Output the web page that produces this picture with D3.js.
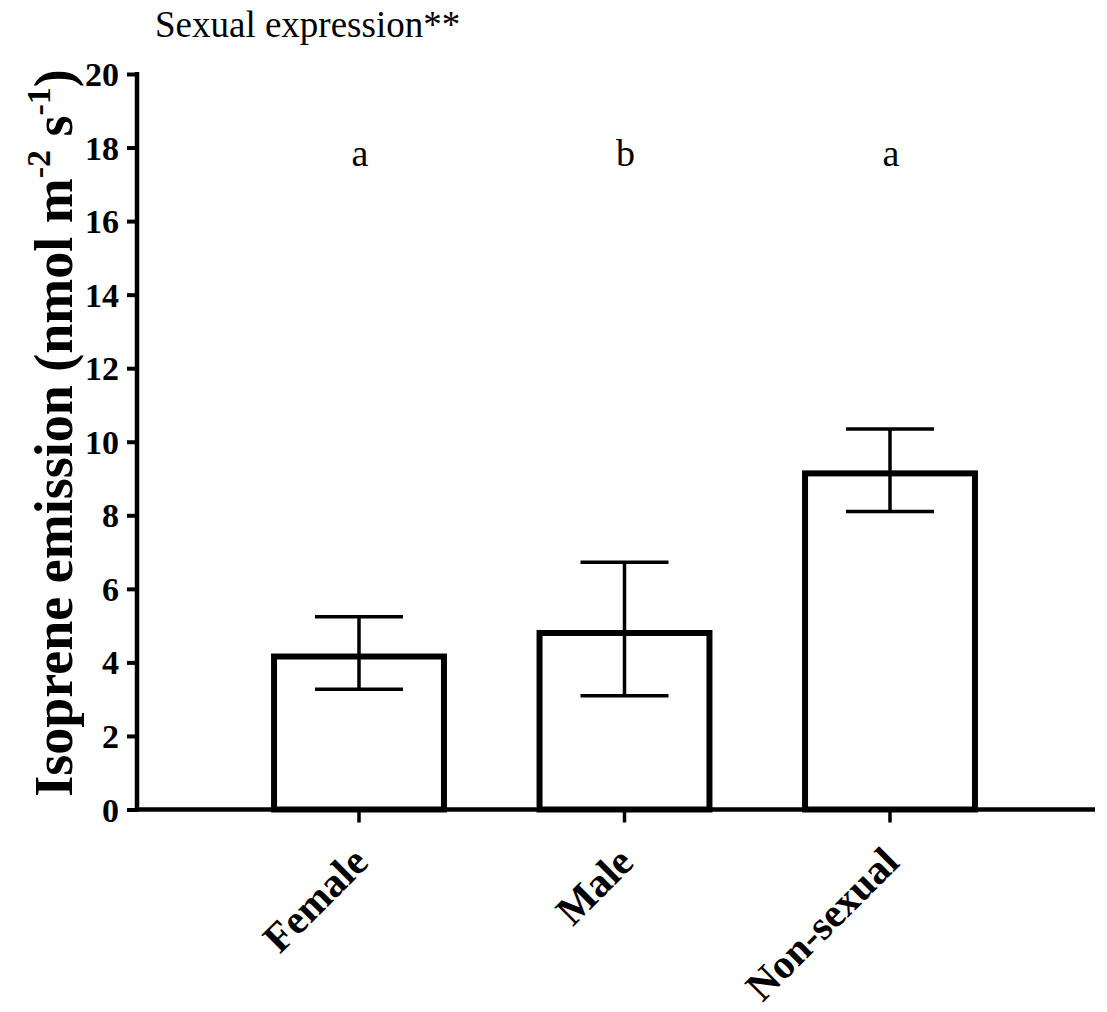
<!DOCTYPE html>
<html>
<head>
<meta charset="utf-8">
<script src="https://cdn.jsdelivr.net/npm/d3@7"></script>
<style>
  html, body { margin: 0; padding: 0; background: #fff; }
  svg { display: block; }
  text { font-family: "Liberation Serif", "Times New Roman", Times, serif; fill: #000; }
</style>
</head>
<body>
<svg id="chart" width="1107" height="1012"></svg>
<script>
// Isoprene emission by sexual expression (mean ± error)
const categories = ["Female", "Male", "Non-sexual"];
const means      = [4.16, 4.80, 9.14];
const errLow     = [3.27, 3.09, 8.10];
const errHigh    = [5.24, 6.72, 10.35];
const groupLetters = ["a", "b", "a"];
const yTicks     = [0, 2, 4, 6, 8, 10, 12, 14, 16, 18, 20];
const titleText  = "Sexual expression**";

const svg = d3.select("#chart");

const axisX0 = 137, axisX1 = 1095;
const y = d3.scaleLinear().domain([0, 20]).range([809.5, 74]);
const x = d3.scaleBand()
  .domain(categories)
  .range([226.25, 1022.75])
  .paddingInner(0.36)
  .paddingOuter(0.18);

// title
svg.append("text")
  .attr("x", 155).attr("y", 37)
  .attr("font-size", 37)
  .text(titleText);

// bars
const bars = svg.append("g");
categories.forEach((c, i) => {
  bars.append("rect")
    .attr("x", x(c))
    .attr("y", y(means[i]))
    .attr("width", x.bandwidth())
    .attr("height", y(0) - y(means[i]))
    .attr("fill", "#fff")
    .attr("stroke", "#000")
    .attr("stroke-width", 6);
});

// error bars
const capHalf = 44;
const eb = svg.append("g").attr("stroke", "#000").attr("stroke-width", 3.5);
categories.forEach((c, i) => {
  const cx = x(c) + x.bandwidth() / 2;
  eb.append("line").attr("x1", cx).attr("x2", cx).attr("y1", y(errLow[i])).attr("y2", y(errHigh[i]));
  eb.append("line").attr("x1", cx - capHalf).attr("x2", cx + capHalf).attr("y1", y(errHigh[i])).attr("y2", y(errHigh[i]));
  eb.append("line").attr("x1", cx - capHalf).attr("x2", cx + capHalf).attr("y1", y(errLow[i])).attr("y2", y(errLow[i]));
});

// significance letters
categories.forEach((c, i) => {
  svg.append("text")
    .attr("x", x(c) + x.bandwidth() / 2 + 1)
    .attr("y", 166)
    .attr("text-anchor", "middle")
    .attr("font-size", 38)
    .text(groupLetters[i]);
});

// y axis
const yAxis = svg.append("g")
  .attr("transform", `translate(${axisX0},0)`)
  .call(d3.axisLeft(y).tickValues(yTicks).tickFormat(d3.format("d")).tickSize(10).tickPadding(8));
yAxis.attr("font-family", null);
yAxis.select(".domain").attr("stroke-width", 4.5).attr("d", `M0,${y(20) - 2}V${y(0) + 2}`);
yAxis.selectAll(".tick line").attr("stroke-width", 4);
yAxis.selectAll(".tick text")
  .attr("font-weight", "bold")
  .attr("font-size", 34)
  .attr("dy", "0.34em");

// x axis
const xAxisG = svg.append("g").attr("transform", `translate(0,${y(0)})`);
xAxisG.append("line")
  .attr("x1", axisX0 - 2).attr("x2", axisX1)
  .attr("stroke", "#000").attr("stroke-width", 4.5);
categories.forEach((c) => {
  const cx = x(c) + x.bandwidth() / 2;
  xAxisG.append("line")
    .attr("x1", cx).attr("x2", cx).attr("y1", 0).attr("y2", 13)
    .attr("stroke", "#000").attr("stroke-width", 3.5);
  xAxisG.append("text")
    .attr("transform", `translate(${cx + 11},${55}) rotate(-45)`)
    .attr("text-anchor", "end")
    .attr("font-weight", "bold")
    .attr("font-size", 41)
    .text(c);
});

// y axis title with superscripts
const yt = svg.append("text")
  .attr("transform", `translate(72,433) rotate(-90)`)
  .attr("text-anchor", "middle")
  .attr("font-weight", "bold")
  .attr("font-size", 54);
yt.append("tspan").text("Isoprene emission (nmol m");
yt.append("tspan").attr("dy", -22).attr("font-size", 34).text("-2");
yt.append("tspan").attr("dy", 22).text(" s");
yt.append("tspan").attr("dy", -22).attr("font-size", 34).text("-1");
yt.append("tspan").attr("dy", 22).text(")");
</script>
</body>
</html>
